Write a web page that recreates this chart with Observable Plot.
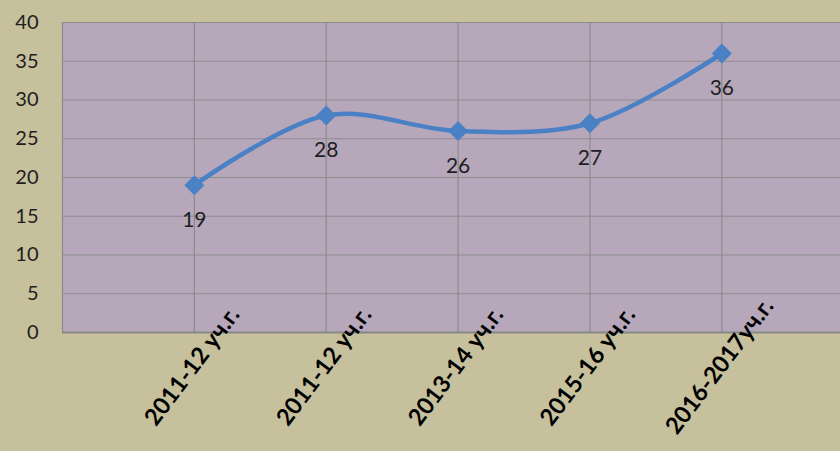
<!DOCTYPE html>
<html>
<head>
<meta charset="utf-8">
<script src="https://cdn.jsdelivr.net/npm/d3@7"></script>
<script src="https://cdn.jsdelivr.net/npm/@observablehq/plot@0.6"></script>
<style>
  html, body { margin: 0; padding: 0; background: #c6c09c; }
  #chart svg { display: block; }
</style>
</head>
<body>
<div id="chart"></div>
<script>
const categories = ["2011-12 уч.г.", "2011-12 уч.г.", "2013-14 уч.г.", "2015-16 уч.г.", "2016-2017уч.г."];
const values = [19, 28, 26, 27, 36];
const yTicks = [0, 5, 10, 15, 20, 25, 30, 35, 40];

const data = categories.map((c, i) => ({slot: i + 1, label: c, value: values[i]}));
const slots = data.map(d => d.slot);
const gridSlots = [0, ...slots];

const chart = Plot.plot({
  width: 840,
  height: 451,
  marginLeft: 62,
  marginRight: 0,
  marginTop: 22,
  marginBottom: 119,
  style: {background: "#c6c09c", fontFamily: "Lato, 'Open Sans', sans-serif", color: "#1e1e1e", overflow: "visible"},
  x: {domain: [0, 5.9]},
  y: {domain: [0, 40]},
  marks: [
    Plot.frame({fill: "#b6a7bb", stroke: null}),
    Plot.ruleY(yTicks, {stroke: "#8c8c8c", strokeWidth: 1.2}),
    Plot.ruleX(gridSlots, {stroke: "#8c8c8c", strokeWidth: 1.2}),
    Plot.ruleY([0], {stroke: "#888888", strokeWidth: 2}),
    Plot.axisY({ticks: yTicks, tickSize: 0, tickPadding: 24, fontSize: 20, label: null, fill: "#1e1e1e"}),
    Plot.axisX({
      ticks: slots,
      tickFormat: (d) => categories[d - 1],
      tickSize: 0,
      tickRotate: -53,
      textAnchor: "middle",
      lineAnchor: "middle",
      tickPadding: 34,
      dx: -2,
      fontSize: 23.5,
      fontWeight: "bold",
      label: null,
      fill: "#000"
    }),
    Plot.line(data, {x: "slot", y: "value", curve: "catmull-rom", stroke: "#4a80c4", strokeWidth: 4.5}),
    Plot.dot(data, {x: "slot", y: "value", symbol: "diamond2", r: 9, fill: "#4a80c4", stroke: null}),
    Plot.text(data, {x: "slot", y: "value", text: d => String(d.value), dy: 35, fontSize: 21, fill: "#1e1e1e"})
  ]
});
document.getElementById("chart").append(chart);
</script>
</body>
</html>
